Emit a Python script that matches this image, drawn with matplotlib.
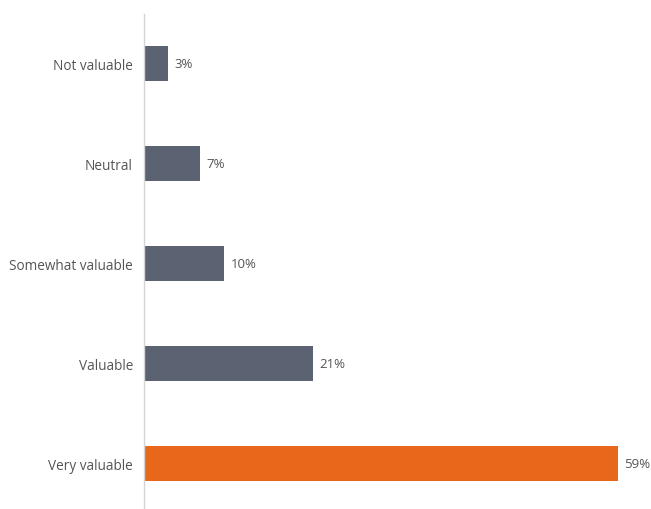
import matplotlib as mpl
import matplotlib.pyplot as plt
import numpy as np

categories = ["Not valuable", "Neutral", "Somewhat valuable", "Valuable", "Very valuable"]
values = [3, 7, 10, 21, 59]
colors = ["#5b6271", "#5b6271", "#5b6271", "#5b6271", "#e8671a"]

plt.rcParams['font.family'] = ['Open Sans', 'DejaVu Sans']

fig = plt.figure(figsize=(6.51, 5.10), dpi=100)
ax = fig.add_axes([144 / 651, 0, 507 / 651, 495 / 510])

y = np.arange(len(categories))
ax.barh(y, values, height=0.35, color=colors)

# value labels to the right of each bar
for yi, v in zip(y, values):
    ax.text(v + 0.8, yi, f"{v}%", va="center", ha="left", fontsize=9.5, color="#555555")

ax.set_xlim(0, 507 / 8.03)
ax.set_ylim(4.46, -0.495)
ax.set_yticks(y)
ax.set_yticklabels(categories, fontsize=9.8, color="#555555")
ax.tick_params(axis="y", length=0, pad=8)
ax.set_xticks([])

for s in ["top", "right", "bottom"]:
    ax.spines[s].set_visible(False)
ax.spines["left"].set_color("#d4d4d4")
ax.spines["left"].set_linewidth(1)

plt.savefig("out.png", dpi=100)
